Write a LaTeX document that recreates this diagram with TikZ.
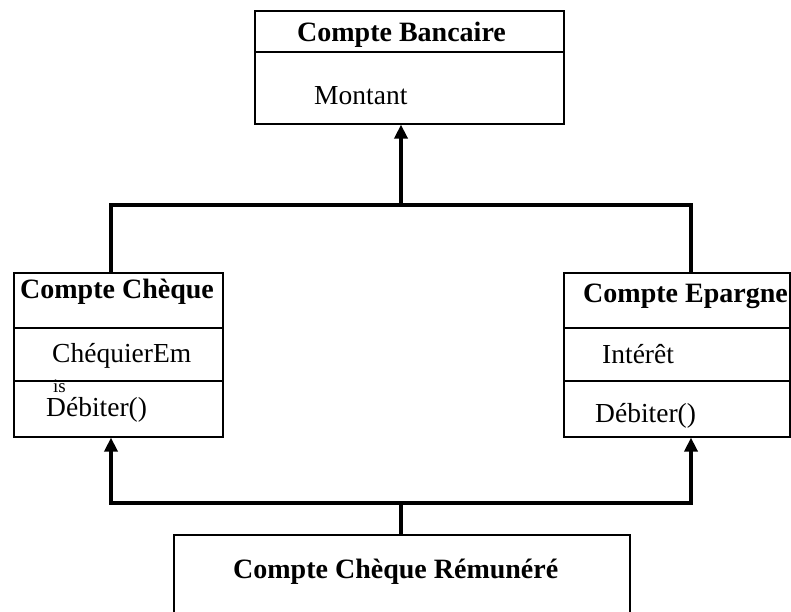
\documentclass[tikz,border=0pt]{standalone}
\usepackage{fontspec}
\setmainfont{Liberation Serif}
\usetikzlibrary{arrows.meta}

\begin{document}
\begin{tikzpicture}[x=1pt,y=-1pt,
    classe/.style={draw,line width=1.6pt,anchor=north west,inner sep=0pt},
    lien/.style={line width=3.6pt,line cap=rect},
    herit/.style={lien,-{Triangle[width=13pt,length=14pt]}},
    titre/.style={anchor=base west,inner sep=0pt,font=\fontsize{28}{30}\selectfont\bfseries},
    attr/.style={anchor=base west,inner sep=0pt,font=\fontsize{27.5}{30}\selectfont}]
  \useasboundingbox (0,0) rectangle (791,611);
  \clip (0,0) rectangle (791,611);
  % les classes
  \draw
    (254,10) node[classe,minimum width=309pt,minimum height=113pt] (banc){}
    (13,272) node[classe,minimum width=209pt,minimum height=164pt] (cheq){}
    (563,272) node[classe,minimum width=226pt,minimum height=164pt] (epar){}
    (173,534) node[classe,minimum width=456pt,minimum height=120pt] (remu){};
  \begin{scope}[line width=1.6pt]
    \draw (254,52) -- (563,52);
    \draw (13,328) -- (222,328);
    \draw (13,381) -- (222,381);
    \draw (563,328) -- (789,328);
    \draw (563,381) -- (789,381);
  \end{scope}
  % les textes
  \draw
    (297,41) node[titre] (t1){Compte Bancaire}
    (314,104) node[attr] (a1){Montant}
    (20,298) node[titre] (t2){Compte Chèque}
    (52,362) node[attr] (a2){ChéquierEm}
    (53,392) node[attr,font=\fontsize{19}{20}\selectfont] (a2b){is}
    (46,416) node[attr] (m2){Débiter()}
    (583,302) node[titre] (t3){Compte Epargne}
    (602,363) node[attr] (a3){Intérêt}
    (595,422) node[attr] (m3){Débiter()}
    (233,578) node[titre] (t4){Compte Chèque Rémunéré};
  % les liens d'heritage
  \coordinate (jh) at (401,205);
  \coordinate (gh) at (111,205);
  \coordinate (dh) at (691,205);
  \coordinate (jb) at (401,503);
  \coordinate (gb) at (111,503);
  \coordinate (db) at (691,503);
  \begin{scope}
    \draw[lien] (gh |- cheq.north) -- (gh) -- (dh) -- (dh |- epar.north);
    \draw[herit] (jh) -- (jh |- banc.south);
    \draw[herit] (db) -- (gb) -- (gb |- cheq.south);
    \draw[herit] (db) -- (db |- epar.south);
    \draw[lien] (jb) -- (jb |- remu.north);
  \end{scope}
\end{tikzpicture}
\end{document}
